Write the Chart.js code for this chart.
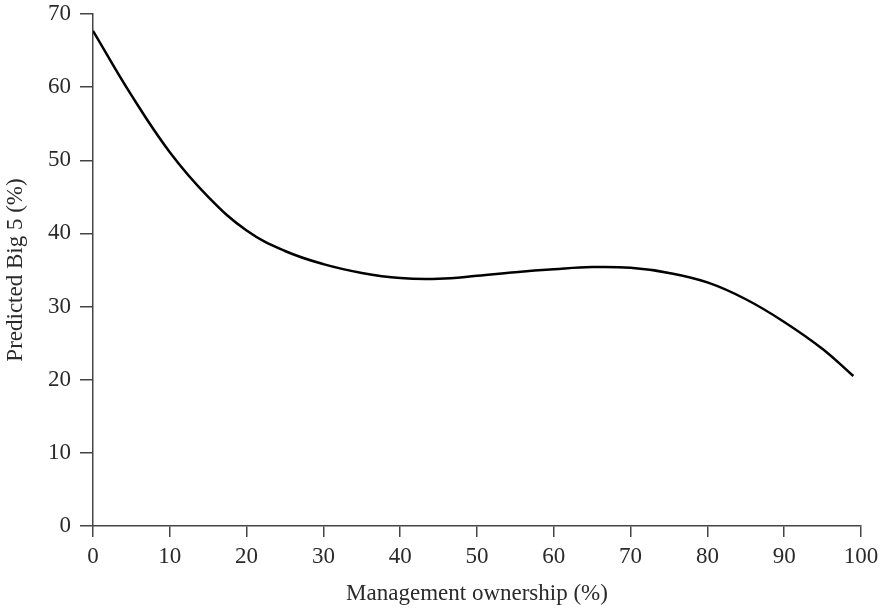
<!DOCTYPE html>
<html>
<head>
<meta charset="utf-8">
<script src="https://cdn.jsdelivr.net/npm/chart.js@4"></script>
<style>
  html, body { margin: 0; padding: 0; background: #fff; }
  #wrap { width: 887px; height: 609px; }
</style>
</head>
<body>
<div id="wrap"><canvas id="bigChart" width="887" height="609"></canvas></div>
<script>
// ownership (%) -> predicted Big 5 share (%)
const ownership = [0, 5, 10, 15, 20, 25, 30, 35, 40, 45, 50, 55, 60, 65, 70, 75, 80, 85, 90, 95, 99];
const predictedBig5 = [67.7, 58.9, 51.1, 45.0, 40.4, 37.6, 35.8, 34.6, 33.9, 33.8, 34.2, 34.7, 35.1, 35.4, 35.3, 34.6, 33.3, 31.0, 27.9, 24.2, 20.5];

const xTicks = [0, 10, 20, 30, 40, 50, 60, 70, 80, 90, 100];
const yTicks = [0, 10, 20, 30, 40, 50, 60, 70];

const axisColor = "#444";
const textColor = "#2a2a2a";
const serif = "'Liberation Serif', 'Times New Roman', serif";

const points = ownership.map((x, i) => ({ x, y: predictedBig5[i] }));

new Chart(document.getElementById("bigChart"), {
  type: "line",
  data: {
    datasets: [{
      data: points,
      borderColor: "#000",
      borderWidth: 2.5,
      pointRadius: 0,
      fill: false,
      tension: 0.4,
    }],
  },
  options: {
    responsive: false,
    animation: false,
    layout: { padding: { top: 14, right: 26, left: 0, bottom: 0 } },
    plugins: { legend: { display: false }, tooltip: { enabled: false } },
    scales: {
      x: {
        type: "linear",
        min: 0,
        max: 100,
        afterBuildTicks: (s) => { s.ticks = xTicks.map((v) => ({ value: v })); },
        afterFit: (s) => {
          s.height = 83;
          s.paddingLeft = 0;
          s.paddingRight = 0;
        },
        border: { display: true, color: axisColor, width: 1.5 },
        grid: { drawOnChartArea: false, tickLength: 11, tickColor: axisColor, lineWidth: 1.5 },
        ticks: { color: textColor, padding: 6, font: { family: serif, size: 23 } },
        title: {
          display: true,
          text: "Management ownership (%)",
          color: textColor,
          padding: { top: 0, bottom: 1 },
          font: { family: serif, size: 23 },
        },
      },
      y: {
        type: "linear",
        min: 0,
        max: 70,
        afterBuildTicks: (s) => { s.ticks = yTicks.map((v) => ({ value: v })); },
        afterFit: (s) => {
          s.width = 93;
          s.paddingTop = 0;
          s.paddingBottom = 0;
        },
        border: { display: true, color: axisColor, width: 1.5 },
        grid: { drawOnChartArea: false, tickLength: 13, tickColor: axisColor, lineWidth: 1.5 },
        ticks: { color: textColor, padding: 9, font: { family: serif, size: 23 } },
        title: {
          display: true,
          text: "Predicted Big 5 (%)",
          color: textColor,
          padding: { top: 2, bottom: 0 },
          font: { family: serif, size: 23 },
        },
      },
    },
  },
});
</script>
</body>
</html>
